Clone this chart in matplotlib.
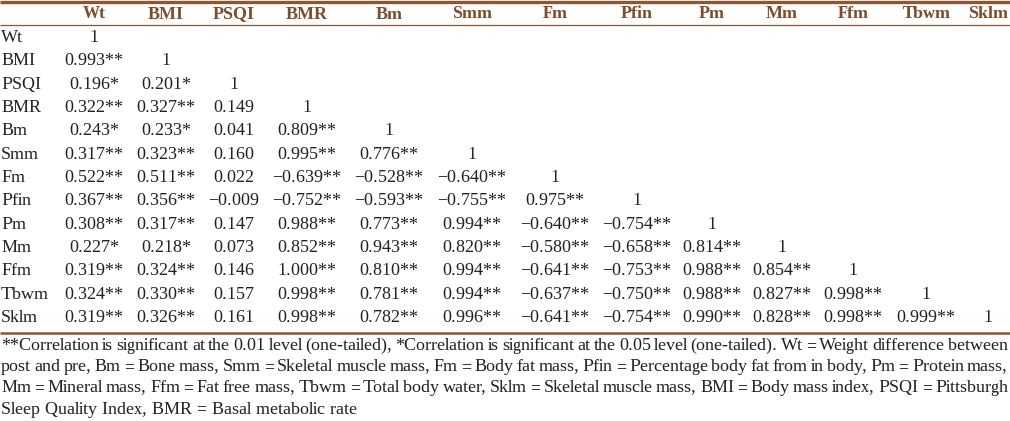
import matplotlib
matplotlib.use("Agg")
import matplotlib.pyplot as plt

plt.rcParams['font.family'] = ['Liberation Serif', 'DejaVu Serif']
plt.rcParams['text.hinting'] = 'native'
plt.rcParams['text.hinting_factor'] = 1

names = ["Wt", "BMI", "PSQI", "BMR", "Bm", "Smm", "Fm", "Pfin", "Pm", "Mm", "Ffm", "Tbwm", "Sklm"]

# lower triangle of the correlation matrix (diagonal = 1 not listed)
r_values = [
    [],
    [0.993],
    [0.196, 0.201],
    [0.322, 0.327, 0.149],
    [0.243, 0.233, 0.041, 0.809],
    [0.317, 0.323, 0.160, 0.995, 0.776],
    [0.522, 0.511, 0.022, -0.639, -0.528, -0.640],
    [0.367, 0.356, -0.009, -0.752, -0.593, -0.755, 0.975],
    [0.308, 0.317, 0.147, 0.988, 0.773, 0.994, -0.640, -0.754],
    [0.227, 0.218, 0.073, 0.852, 0.943, 0.820, -0.580, -0.658, 0.814],
    [0.319, 0.324, 0.146, 1.000, 0.810, 0.994, -0.641, -0.753, 0.988, 0.854],
    [0.324, 0.330, 0.157, 0.998, 0.781, 0.994, -0.637, -0.750, 0.988, 0.827, 0.998],
    [0.319, 0.326, 0.161, 0.998, 0.782, 0.996, -0.641, -0.754, 0.990, 0.828, 0.998, 0.999],
]
stars = [
    [],
    ["**"],
    ["*", "*"],
    ["**", "**", ""],
    ["*", "*", "", "**"],
    ["**", "**", "", "**", "**"],
    ["**", "**", "", "**", "**", "**"],
    ["**", "**", "", "**", "**", "**", "**"],
    ["**", "**", "", "**", "**", "**", "**", "**"],
    ["*", "*", "", "**", "**", "**", "**", "**", "**"],
    ["**", "**", "", "**", "**", "**", "**", "**", "**", "**"],
    ["**", "**", "", "**", "**", "**", "**", "**", "**", "**", "**"],
    ["**", "**", "", "**", "**", "**", "**", "**", "**", "**", "**", "**"],
]

footnote = [
    "**Correlation is significant at the 0.01 level (one-tailed), *Correlation is significant at the 0.05 level (one-tailed). Wt = Weight difference between",
    "post and pre, Bm = Bone mass, Smm = Skeletal muscle mass, Fm = Body fat mass, Pfin = Percentage body fat from in body, Pm = Protein mass,",
    "Mm = Mineral mass, Ffm = Fat free mass, Tbwm = Total body water, Sklm = Skeletal muscle mass, BMI = Body mass index, PSQI = Pittsburgh",
    "Sleep Quality Index, BMR = Basal metabolic rate",
]

col_x = [94, 166, 234, 307, 389, 472, 555, 637, 712, 782, 853, 926, 988]
brown = "#7e4d2c"
line_brown = "#8a5735"
ink = "#222222"

fig = plt.figure(figsize=(10.1, 4.21), dpi=100)
ax = fig.add_axes([0, 0, 1, 1])
ax.set_xlim(0, 1010)
ax.set_ylim(421, 0)
ax.axis("off")

fs = 12.9

# rules
ax.plot([0, 1010], [1.5, 1.5], color=line_brown, lw=2.4, solid_capstyle="butt")
ax.plot([0, 1010], [24.5, 24.5], color=line_brown, lw=0.9, solid_capstyle="butt")
ax.plot([0, 1010], [333, 333], color=line_brown, lw=1.8, solid_capstyle="butt")

# header
for x, n in zip(col_x, names):
    ax.text(x, 18.5, n, ha="center", va="baseline", fontsize=fs, fontweight="bold", color=brown)

def fmt(v):
    s = "%.3f" % abs(v)
    return ("\u2212" + s) if v < 0 else s

for i, n in enumerate(names):
    y = round(42 + i * 23.33)
    ax.text(1, y, n, ha="left", va="baseline", fontsize=fs, color=ink)
    for j, (v, st) in enumerate(zip(r_values[i], stars[i])):
        ax.text(col_x[j], y, fmt(v) + st, ha="center", va="baseline", fontsize=fs, color=ink)
    ax.text(col_x[i], y, "1", ha="center", va="baseline", fontsize=fs, color=ink)

# footnote, justified except the last line
fig.canvas.draw()
renderer = fig.canvas.get_renderer()
for k, line in enumerate(footnote):
    y = round(350 + k * 21.2)
    if k == len(footnote) - 1:
        ax.text(1, y, line, ha="left", va="baseline", fontsize=fs, color=ink)
        continue
    words = line.split(" ")
    arts = [ax.text(0, y, w, ha="left", va="baseline", fontsize=fs, color=ink) for w in words]
    widths = [a.get_window_extent(renderer).width for a in arts]
    gap = (1008 - 1 - sum(widths)) / (len(words) - 1)
    x = 1
    for a, w in zip(arts, widths):
        a.set_x(x)
        x += w + gap

fig.savefig("out.png", dpi=100)
